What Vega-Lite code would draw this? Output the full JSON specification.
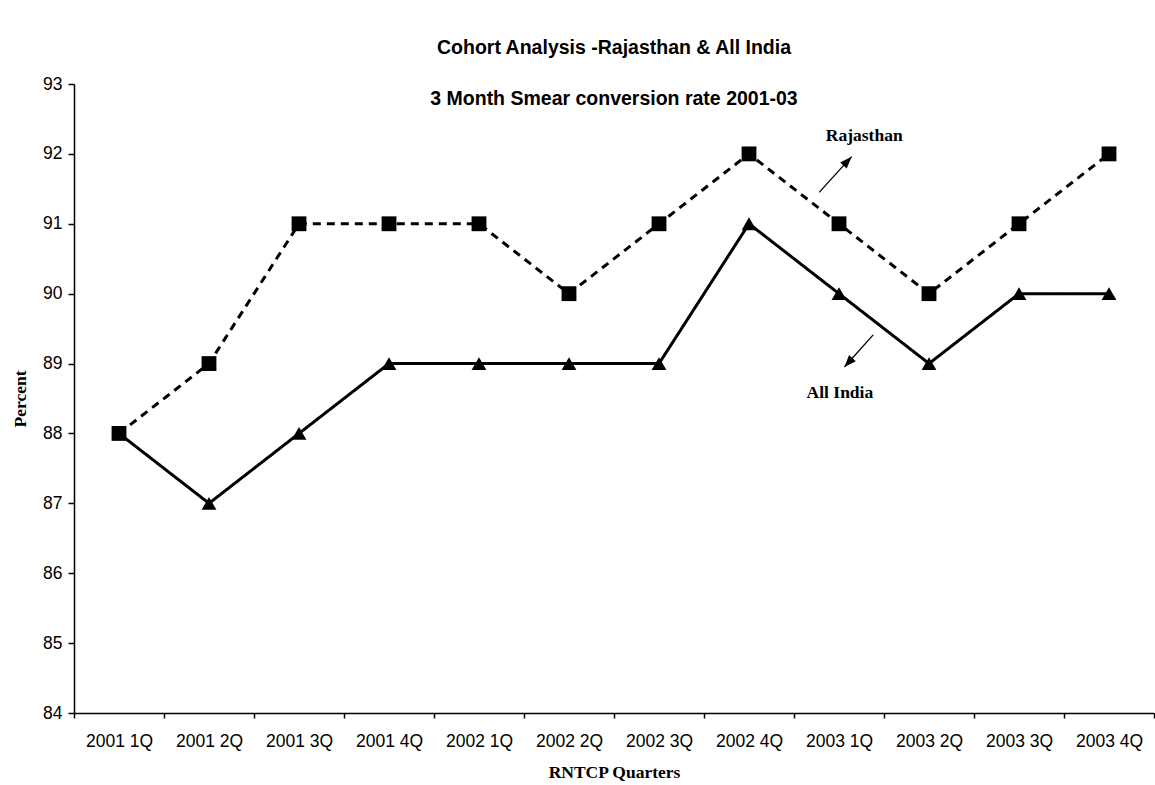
{
  "$schema": "https://vega.github.io/schema/vega-lite/v6.json",
  "autosize": {"type": "none"},
  "padding": {"left": 74, "top": 84, "right": 1, "bottom": 72},
  "width": 1080,
  "height": 629,
  "background": "white",
  "title": {
    "text": "Cohort Analysis -Rajasthan & All India",
    "subtitle": "3 Month Smear conversion rate 2001-03",
    "anchor": "middle",
    "font": "Liberation Sans",
    "fontSize": 19.5,
    "fontWeight": "bold",
    "color": "black",
    "subtitleFont": "Liberation Sans",
    "subtitleFontSize": 19.5,
    "subtitleFontWeight": "bold",
    "subtitleColor": "black",
    "subtitlePadding": 31,
    "offset": -34
  },
  "config": {
    "view": {"stroke": null},
    "axis": {
      "domainColor": "black",
      "domainWidth": 1.5,
      "tickColor": "black",
      "tickWidth": 1.5,
      "grid": false,
      "labelFont": "Liberation Sans",
      "labelFontSize": 17.5,
      "labelColor": "black",
      "titleFont": "Liberation Serif",
      "titleFontSize": 17.5,
      "titleFontWeight": "bold",
      "titleColor": "black"
    }
  },
  "datasets": {
    "rates": [
      {"quarter": "2001 1Q", "series": "All India", "value": 88},
      {"quarter": "2001 2Q", "series": "All India", "value": 87},
      {"quarter": "2001 3Q", "series": "All India", "value": 88},
      {"quarter": "2001 4Q", "series": "All India", "value": 89},
      {"quarter": "2002 1Q", "series": "All India", "value": 89},
      {"quarter": "2002 2Q", "series": "All India", "value": 89},
      {"quarter": "2002 3Q", "series": "All India", "value": 89},
      {"quarter": "2002 4Q", "series": "All India", "value": 91},
      {"quarter": "2003 1Q", "series": "All India", "value": 90},
      {"quarter": "2003 2Q", "series": "All India", "value": 89},
      {"quarter": "2003 3Q", "series": "All India", "value": 90},
      {"quarter": "2003 4Q", "series": "All India", "value": 90},
      {"quarter": "2001 1Q", "series": "Rajasthan", "value": 88},
      {"quarter": "2001 2Q", "series": "Rajasthan", "value": 89},
      {"quarter": "2001 3Q", "series": "Rajasthan", "value": 91},
      {"quarter": "2001 4Q", "series": "Rajasthan", "value": 91},
      {"quarter": "2002 1Q", "series": "Rajasthan", "value": 91},
      {"quarter": "2002 2Q", "series": "Rajasthan", "value": 90},
      {"quarter": "2002 3Q", "series": "Rajasthan", "value": 91},
      {"quarter": "2002 4Q", "series": "Rajasthan", "value": 92},
      {"quarter": "2003 1Q", "series": "Rajasthan", "value": 91},
      {"quarter": "2003 2Q", "series": "Rajasthan", "value": 90},
      {"quarter": "2003 3Q", "series": "Rajasthan", "value": 91},
      {"quarter": "2003 4Q", "series": "Rajasthan", "value": 92}
    ],
    "labels": [
      {"label": "Rajasthan", "pos": 8.78, "value": 92.26},
      {"label": "All India", "pos": 8.51, "value": 88.58}
    ],
    "arrows": [
      {"series": "Rajasthan", "pos": 8.28, "value": 91.45, "pos2": 8.64, "value2": 91.96},
      {"series": "All India", "pos": 8.88, "value": 89.41, "pos2": 8.56, "value2": 88.95}
    ]
  },
  "resolve": {"scale": {"x": "independent"}, "axis": {"x": "independent"}},
  "layer": [
    {
      "data": {"name": "rates"},
      "encoding": {
        "x": {
          "field": "quarter",
          "type": "ordinal",
          "sort": null,
          "scale": {"type": "band", "paddingInner": 0, "paddingOuter": 0},
          "axis": {
            "title": "RNTCP Quarters",
            "labelAngle": 0,
            "tickBand": "extent",
            "tickSize": 5,
            "labelPadding": 14,
            "titlePadding": 14
          }
        },
        "y": {
          "field": "value",
          "type": "quantitative",
          "scale": {"domain": [84, 93], "zero": false, "nice": false},
          "axis": {
            "title": "Percent",
            "format": "d",
            "values": [84, 85, 86, 87, 88, 89, 90, 91, 92, 93],
            "tickSize": 6,
            "labelPadding": 6,
            "titlePadding": 13
          }
        }
      },
      "layer": [
        {
          "mark": {"type": "line", "strokeWidth": 3, "color": "black"},
          "encoding": {
            "strokeDash": {
              "field": "series",
              "type": "nominal",
              "scale": {"domain": ["All India", "Rajasthan"], "range": [[1, 0], [8, 6]]},
              "legend": null
            }
          }
        },
        {
          "mark": {"type": "point", "filled": true, "size": 220, "color": "black", "opacity": 1},
          "encoding": {
            "shape": {
              "field": "series",
              "type": "nominal",
              "scale": {"domain": ["All India", "Rajasthan"], "range": ["triangle-up", "square"]},
              "legend": null
            }
          }
        }
      ]
    },
    {
      "data": {"name": "labels"},
      "mark": {"type": "text", "font": "Liberation Serif", "fontSize": 17.5, "fontWeight": "bold", "color": "black", "baseline": "middle", "align": "center"},
      "encoding": {
        "x": {"field": "pos", "type": "quantitative", "scale": {"domain": [0, 12], "nice": false, "zero": false}, "axis": null},
        "y": {"field": "value", "type": "quantitative"},
        "text": {"field": "label"}
      }
    },
    {
      "data": {"name": "arrows"},
      "layer": [
        {
          "mark": {"type": "rule", "strokeWidth": 1.3, "color": "black"},
          "encoding": {
            "x": {"field": "pos", "type": "quantitative", "scale": {"domain": [0, 12], "nice": false, "zero": false}, "axis": null},
            "y": {"field": "value", "type": "quantitative"},
            "x2": {"field": "pos2"},
            "y2": {"field": "value2"}
          }
        },
        {
          "transform": [{"filter": "datum.series === 'Rajasthan'"}],
          "mark": {"type": "point", "shape": "M0,0L0.75,2L-0.75,2Z", "filled": true, "size": 144, "color": "black", "opacity": 1, "angle": 43},
          "encoding": {
            "x": {"field": "pos2", "type": "quantitative", "scale": {"domain": [0, 12], "nice": false, "zero": false}, "axis": null},
            "y": {"field": "value2", "type": "quantitative"}
          }
        },
        {
          "transform": [{"filter": "datum.series === 'All India'"}],
          "mark": {"type": "point", "shape": "M0,0L0.75,2L-0.75,2Z", "filled": true, "size": 144, "color": "black", "opacity": 1, "angle": 222},
          "encoding": {
            "x": {"field": "pos2", "type": "quantitative", "scale": {"domain": [0, 12], "nice": false, "zero": false}, "axis": null},
            "y": {"field": "value2", "type": "quantitative"}
          }
        }
      ]
    }
  ]
}
